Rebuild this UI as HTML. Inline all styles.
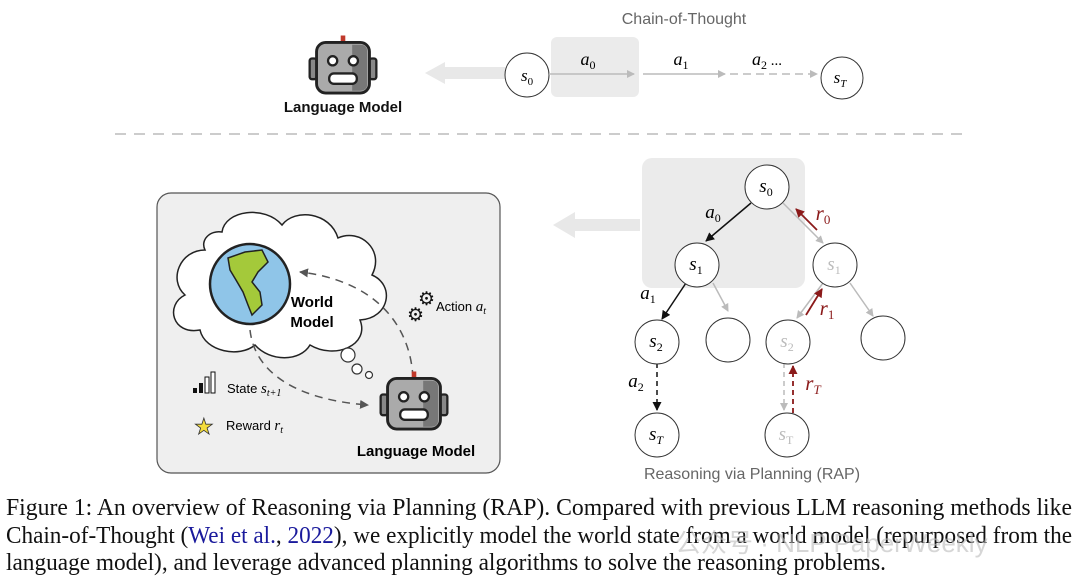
<!DOCTYPE html>
<html><head><meta charset="utf-8"><style>
html,body{margin:0;padding:0;background:#fff;width:1080px;height:582px;overflow:hidden}
svg{display:block}
.m{font-family:"Liberation Serif",serif;font-style:italic}
.s{font-family:"Liberation Sans",sans-serif}
tspan.n{font-style:normal}
</style></head><body>
<svg width="1080" height="582" viewBox="0 0 1080 582" xmlns="http://www.w3.org/2000/svg">
<defs>
<marker id="ag" markerWidth="8" markerHeight="8" refX="7" refY="4" orient="auto" markerUnits="userSpaceOnUse"><path d="M0,0 L8,4 L0,8z" fill="#bbb"/></marker>
<marker id="ak" markerWidth="9" markerHeight="9" refX="8" refY="4.5" orient="auto" markerUnits="userSpaceOnUse"><path d="M0,0 L9,4.5 L0,9z" fill="#111"/></marker>
<marker id="ar" markerWidth="9" markerHeight="9" refX="8" refY="4.5" orient="auto" markerUnits="userSpaceOnUse"><path d="M0,0 L9,4.5 L0,9z" fill="#8b1a1a"/></marker>
<marker id="ad" markerWidth="9" markerHeight="9" refX="8" refY="4.5" orient="auto" markerUnits="userSpaceOnUse"><path d="M0,0 L9,4.5 L0,9z" fill="#555"/></marker>
<g id="robot">
<rect x="-2" y="-30" width="4" height="6" fill="#c0392b"/>
<rect x="-29" y="-10" width="6" height="18" rx="2" fill="#888" stroke="#222" stroke-width="2"/>
<rect x="23" y="-10" width="6" height="18" rx="2" fill="#888" stroke="#222" stroke-width="2"/>
<rect x="-23" y="-24" width="46" height="44" rx="8" fill="#aaa" stroke="#222" stroke-width="2.5"/>
<path d="M8,-22 L15,-22 Q21,-22 21,-16 L21,12 Q21,18 15,18 L8,18z" fill="#777"/>
<circle cx="-9" cy="-8" r="4" fill="#fff" stroke="#222" stroke-width="2"/>
<circle cx="9" cy="-8" r="4" fill="#fff" stroke="#222" stroke-width="2"/>
<rect x="-12" y="3" width="24" height="9" rx="4" fill="#fff" stroke="#222" stroke-width="2"/>
</g>
</defs>

<text x="684" y="24" text-anchor="middle" class="s" font-size="16" fill="#666">Chain-of-Thought</text>
<use href="#robot" transform="translate(343,70) scale(1.15)"/>
<text x="343" y="112" text-anchor="middle" class="s" font-size="15" font-weight="bold" fill="#111">Language Model</text>
<path d="M505,67 L445,67 L445,62 L425,73 L445,84 L445,79 L505,79z" fill="#e8e8e8"/>
<rect x="551" y="37" width="88" height="60" rx="6" fill="#ebebeb"/>
<circle cx="527" cy="75" r="22" fill="#fff" stroke="#333" stroke-width="1"/>
<text x="527" y="81" text-anchor="middle" class="m" font-size="17">s<tspan class="n" font-size="11" dy="4">0</tspan></text>
<line x1="549" y1="74" x2="634" y2="74" stroke="#bbb" stroke-width="1.5" marker-end="url(#ag)"/>
<line x1="643" y1="74" x2="725" y2="74" stroke="#bbb" stroke-width="1.5" marker-end="url(#ag)"/>
<line x1="730" y1="74" x2="817" y2="74" stroke="#bbb" stroke-width="1.5" stroke-dasharray="8,5" marker-end="url(#ag)"/>
<text x="588" y="65" class="m" font-size="18" text-anchor="middle">a<tspan class="n" font-size="12" dy="4">0</tspan></text>
<text x="681" y="65" class="m" font-size="18" text-anchor="middle">a<tspan class="n" font-size="12" dy="4">1</tspan></text>
<text x="767" y="65" class="m" font-size="18" text-anchor="middle">a<tspan class="n" font-size="12" dy="4">2</tspan><tspan dy="-4" font-style="normal" font-size="15"> ...</tspan></text>
<circle cx="842" cy="78" r="21" fill="#fff" stroke="#333" stroke-width="1"/>
<text x="840" y="83" text-anchor="middle" class="m" font-size="17">s<tspan font-size="11" dy="4">T</tspan></text>

<line x1="115" y1="134" x2="962" y2="134" stroke="#bbb" stroke-width="1.5" stroke-dasharray="11,8"/>

<rect x="157" y="193" width="343" height="280" rx="14" fill="#efefef" stroke="#555" stroke-width="1.2"/>
<path d="M640,219 L575,219 L575,212 L553,225 L575,238 L575,231 L640,231z" fill="#e8e8e8"/>
<path d="M205,250 C180,250 168,280 185,295 C165,305 172,335 200,330 C205,352 240,358 255,345 C270,362 300,362 310,345 C335,360 370,345 360,320 C390,318 395,285 372,275 C385,250 360,228 338,238 C330,212 295,208 282,225 C265,205 225,210 222,232 C210,230 200,240 205,250z" fill="#fff" stroke="#222" stroke-width="1.5"/>
<circle cx="348" cy="355" r="7" fill="#fff" stroke="#333" stroke-width="1.2"/>
<circle cx="357" cy="369" r="5" fill="#fff" stroke="#333" stroke-width="1.2"/>
<circle cx="369" cy="375" r="3.5" fill="#fff" stroke="#333" stroke-width="1.2"/>
<circle cx="250" cy="284" r="40" fill="#8fc5e8" stroke="#222" stroke-width="2.5"/>
<path d="M228,258 L245,252 L262,250 L268,262 L258,272 L252,282 L260,292 L262,305 L252,315 L248,305 L243,292 L236,280 L230,270z" fill="#a4c93a" stroke="#222" stroke-width="1.5"/>
<text x="312" y="307" text-anchor="middle" class="s" font-size="15" font-weight="bold">World</text>
<text x="312" y="327" text-anchor="middle" class="s" font-size="15" font-weight="bold">Model</text>
<path d="M413,378 C410,320 370,280 300,272" fill="none" stroke="#555" stroke-width="1.5" stroke-dasharray="8,6" marker-end="url(#ad)"/>
<path d="M250,330 C255,375 300,400 368,405" fill="none" stroke="#555" stroke-width="1.5" stroke-dasharray="8,6" marker-end="url(#ad)"/>
<text x="418" y="305" font-size="19" fill="#111">⚙</text>
<text x="407" y="321" font-size="19" fill="#111">⚙</text>
<text x="436" y="311" class="s" font-size="13">Action <tspan class="m" font-size="15">a</tspan><tspan class="m" font-size="10" dy="3">t</tspan></text>
<rect x="193" y="388" width="4" height="5" fill="#111"/>
<rect x="199" y="383" width="4" height="10" fill="#111"/>
<rect x="205" y="377" width="4" height="16" fill="#fff" stroke="#111"/>
<rect x="211" y="372" width="4" height="21" fill="#fff" stroke="#111"/>
<text x="227" y="393" class="s" font-size="13">State <tspan class="m" font-size="15">s</tspan><tspan class="m" font-size="10" dy="3">t+1</tspan></text>
<text x="194" y="434" font-size="22" fill="#f4dd3b" stroke="#333" stroke-width="0.8">★</text>
<text x="226" y="430" class="s" font-size="13">Reward <tspan class="m" font-size="15">r</tspan><tspan class="m" font-size="10" dy="3">t</tspan></text>
<use href="#robot" transform="translate(414,406) scale(1.15)"/>
<text x="416" y="456" text-anchor="middle" class="s" font-size="15" font-weight="bold">Language Model</text>

<rect x="642" y="158" width="163" height="130" rx="10" fill="#ebebeb"/>
<line x1="751" y1="203" x2="706" y2="241" stroke="#111" stroke-width="1.5" marker-end="url(#ak)"/>
<line x1="783" y1="203" x2="823" y2="243" stroke="#bbb" stroke-width="1.5" marker-end="url(#ag)"/>
<line x1="817" y1="230" x2="796" y2="209" stroke="#8b1a1a" stroke-width="1.8" marker-end="url(#ar)"/>
<line x1="686" y1="283" x2="662" y2="319" stroke="#111" stroke-width="1.5" marker-end="url(#ak)"/>
<line x1="713" y1="283" x2="728" y2="311" stroke="#bbb" stroke-width="1.5" marker-end="url(#ag)"/>
<line x1="823" y1="283" x2="797" y2="318" stroke="#bbb" stroke-width="1.5" marker-end="url(#ag)"/>
<line x1="806" y1="315" x2="822" y2="289" stroke="#8b1a1a" stroke-width="1.8" marker-end="url(#ar)"/>
<line x1="850" y1="283" x2="873" y2="316" stroke="#bbb" stroke-width="1.5" marker-end="url(#ag)"/>
<line x1="657" y1="363" x2="657" y2="410" stroke="#111" stroke-width="1.5" stroke-dasharray="5,4" marker-end="url(#ak)"/>
<line x1="784" y1="363" x2="784" y2="410" stroke="#bbb" stroke-width="1.5" stroke-dasharray="5,4" marker-end="url(#ag)"/>
<line x1="793" y1="413" x2="793" y2="366" stroke="#8b1a1a" stroke-width="1.8" stroke-dasharray="5,4" marker-end="url(#ar)"/>
<g fill="#fff" stroke="#333" stroke-width="1">
<circle cx="767" cy="187" r="22"/><circle cx="697" cy="265" r="22"/><circle cx="835" cy="265" r="22"/>
<circle cx="657" cy="342" r="22"/><circle cx="728" cy="340" r="22"/><circle cx="788" cy="342" r="22"/><circle cx="883" cy="338" r="22"/>
<circle cx="657" cy="435" r="22"/><circle cx="787" cy="435" r="22"/>
</g>
<g class="m" font-size="19" text-anchor="middle">
<text x="766" y="192">s<tspan class="n" font-size="12" dy="4">0</tspan></text>
<text x="696" y="270">s<tspan class="n" font-size="12" dy="4">1</tspan></text>
<text x="834" y="270" fill="#bbb">s<tspan class="n" font-size="12" dy="4">1</tspan></text>
<text x="656" y="347">s<tspan class="n" font-size="12" dy="4">2</tspan></text>
<text x="787" y="347" fill="#bbb">s<tspan class="n" font-size="12" dy="4">2</tspan></text>
<text x="656" y="440">s<tspan font-size="12" dy="4">T</tspan></text>
<text x="786" y="440" fill="#bbb">s<tspan class="n" font-size="12" dy="4">T</tspan></text>
<text x="713" y="218">a<tspan class="n" font-size="12" dy="4">0</tspan></text>
<text x="648" y="299">a<tspan class="n" font-size="12" dy="4">1</tspan></text>
<text x="636" y="387">a<tspan class="n" font-size="12" dy="4">2</tspan></text>
<text x="823" y="220" fill="#8b1a1a" font-size="21">r<tspan class="n" font-size="13" dy="4">0</tspan></text>
<text x="827" y="315" fill="#8b1a1a" font-size="21">r<tspan class="n" font-size="13" dy="4">1</tspan></text>
<text x="813" y="390" fill="#8b1a1a" font-size="21">r<tspan font-size="13" dy="4">T</tspan></text>
</g>
<text x="752" y="479" text-anchor="middle" class="s" font-size="16" fill="#666">Reasoning via Planning (RAP)</text>

<g font-family="Liberation Serif,serif" font-size="24" fill="#111">
<text x="6" y="515" textLength="1066" lengthAdjust="spacingAndGlyphs">Figure 1: An overview of Reasoning via Planning (RAP). Compared with previous LLM reasoning methods like</text>
<text x="6" y="543" textLength="1066" lengthAdjust="spacingAndGlyphs">Chain-of-Thought (<tspan fill="#1a1a9c">Wei et al.</tspan>, <tspan fill="#1a1a9c">2022</tspan>), we explicitly model the world state from a world model (repurposed from the</text>
<text x="6" y="570" textLength="880" lengthAdjust="spacingAndGlyphs">language model), and leverage advanced planning algorithms to solve the reasoning problems.</text>
</g>
<text x="675" y="552" font-family="Liberation Sans,'Noto Sans CJK SC',sans-serif" font-size="26" fill="#bbb" opacity="0.6">公众号 · NLP PaperWeekly</text>
</svg>
</body></html>
